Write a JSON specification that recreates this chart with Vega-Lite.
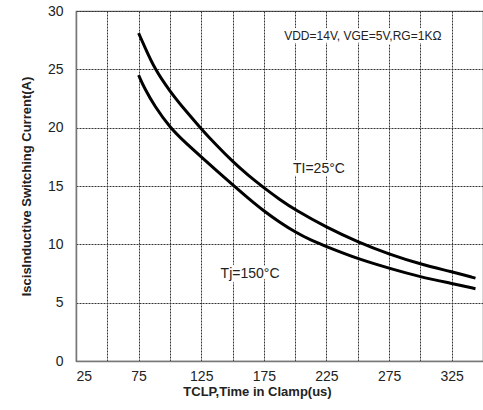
{
  "$schema": "https://vega.github.io/schema/vega-lite/v6.json",
  "autosize": {"type": "none"},
  "padding": {"left": 76, "top": 11, "right": 0, "bottom": 49},
  "width": 407,
  "height": 350,
  "background": "white",
  "config": {
    "view": {"stroke": "#777", "strokeWidth": 1.2},
    "font": "Liberation Sans"
  },
  "resolve": {"axis": {"x": "independent"}},
  "datasets": {
    "curves": [
      {"t": 75, "i": 28.1, "s": "25C"},
      {"t": 80, "i": 26.9, "s": "25C"},
      {"t": 87.5, "i": 25.1, "s": "25C"},
      {"t": 100, "i": 23.1, "s": "25C"},
      {"t": 112.5, "i": 21.45, "s": "25C"},
      {"t": 125, "i": 19.9, "s": "25C"},
      {"t": 137.5, "i": 18.45, "s": "25C"},
      {"t": 150, "i": 17.1, "s": "25C"},
      {"t": 162.5, "i": 15.9, "s": "25C"},
      {"t": 175, "i": 14.85, "s": "25C"},
      {"t": 187.5, "i": 13.85, "s": "25C"},
      {"t": 200, "i": 12.95, "s": "25C"},
      {"t": 225, "i": 11.45, "s": "25C"},
      {"t": 250, "i": 10.2, "s": "25C"},
      {"t": 275, "i": 9.15, "s": "25C"},
      {"t": 300, "i": 8.3, "s": "25C"},
      {"t": 325, "i": 7.65, "s": "25C"},
      {"t": 344, "i": 7.1, "s": "25C"},
      {"t": 75, "i": 24.5, "s": "150C"},
      {"t": 80, "i": 23.3, "s": "150C"},
      {"t": 87.5, "i": 21.9, "s": "150C"},
      {"t": 100, "i": 20.0, "s": "150C"},
      {"t": 112.5, "i": 18.7, "s": "150C"},
      {"t": 125, "i": 17.5, "s": "150C"},
      {"t": 137.5, "i": 16.3, "s": "150C"},
      {"t": 150, "i": 15.1, "s": "150C"},
      {"t": 162.5, "i": 13.95, "s": "150C"},
      {"t": 175, "i": 12.85, "s": "150C"},
      {"t": 187.5, "i": 11.9, "s": "150C"},
      {"t": 200, "i": 11.05, "s": "150C"},
      {"t": 212.5, "i": 10.35, "s": "150C"},
      {"t": 225, "i": 9.8, "s": "150C"},
      {"t": 250, "i": 8.75, "s": "150C"},
      {"t": 275, "i": 7.95, "s": "150C"},
      {"t": 300, "i": 7.2, "s": "150C"},
      {"t": 325, "i": 6.65, "s": "150C"},
      {"t": 344, "i": 6.2, "s": "150C"}
    ],
    "notes": [
      {"t": 254, "i": 27.9, "label": "VDD=14V, VGE=5V,RG=1KΩ", "size": 12},
      {"t": 219, "i": 16.5, "label": "TI=25°C", "size": 14},
      {"t": 164, "i": 7.5, "label": "Tj=150°C", "size": 14}
    ]
  },
  "layer": [
    {
      "data": {"name": "notes"},
      "mark": {"type": "text", "color": "#222", "align": "center", "baseline": "middle", "stroke": "white", "strokeWidth": 6, "strokeJoin": "round"},
      "encoding": {
        "x": {
          "field": "t", "type": "quantitative",
          "scale": {"domain": [25, 350], "nice": false, "zero": false},
          "axis": {
            "orient": "top",
            "values": [50, 75, 100, 125, 150, 175, 200, 225, 250, 275, 300, 325],
            "grid": true, "gridColor": "#333", "gridDash": [2, 1], "gridWidth": 1,
            "labels": false, "ticks": false, "domain": false, "title": null
          }
        },
        "y": {"field": "i", "type": "quantitative", "scale": {"domain": [0, 30], "nice": false}},
        "text": {"field": "label"},
        "size": {"field": "size", "type": "quantitative", "scale": null}
      }
    },
    {
      "data": {"name": "notes"},
      "mark": {"type": "text", "color": "#222", "align": "center", "baseline": "middle"},
      "encoding": {
        "x": {"field": "t", "type": "quantitative", "axis": null},
        "y": {"field": "i", "type": "quantitative"},
        "text": {"field": "label"},
        "size": {"field": "size", "type": "quantitative", "scale": null}
      }
    },
    {
      "data": {"name": "curves"},
      "mark": {"type": "line", "color": "black", "strokeWidth": 3, "interpolate": "basis"},
      "encoding": {
        "x": {
          "field": "t", "type": "quantitative",
          "scale": {"domain": [25, 350], "nice": false, "zero": false},
          "axis": {
            "orient": "bottom",
            "values": [25, 75, 125, 175, 225, 275, 325],
            "grid": false,
            "ticks": false, "labelPadding": 8,
            "domainColor": "#777", "domainWidth": 1.5,
            "labelFontSize": 14, "labelColor": "#222",
            "title": "TCLP,Time in Clamp(us)",
            "titleFontSize": 13, "titleFontWeight": "bold", "titleColor": "#222",
            "titlePadding": 2, "titleX": 181, "titleAnchor": "middle"
          }
        },
        "y": {
          "field": "i", "type": "quantitative",
          "scale": {"domain": [0, 30], "nice": false},
          "axis": {
            "values": [0, 5, 10, 15, 20, 25, 30],
            "grid": true, "gridColor": "#333", "gridDash": [2, 1], "gridWidth": 1,
            "ticks": false, "labelPadding": 13,
            "domainColor": "#777", "domainWidth": 1.5,
            "labelFontSize": 14, "labelColor": "#222",
            "title": "IscisInductive Switching Current(A)",
            "titleFontSize": 13, "titleFontWeight": "bold", "titleColor": "#222",
            "titlePadding": 14
          }
        },
        "detail": {"field": "s", "type": "nominal"}
      }
    }
  ]
}
